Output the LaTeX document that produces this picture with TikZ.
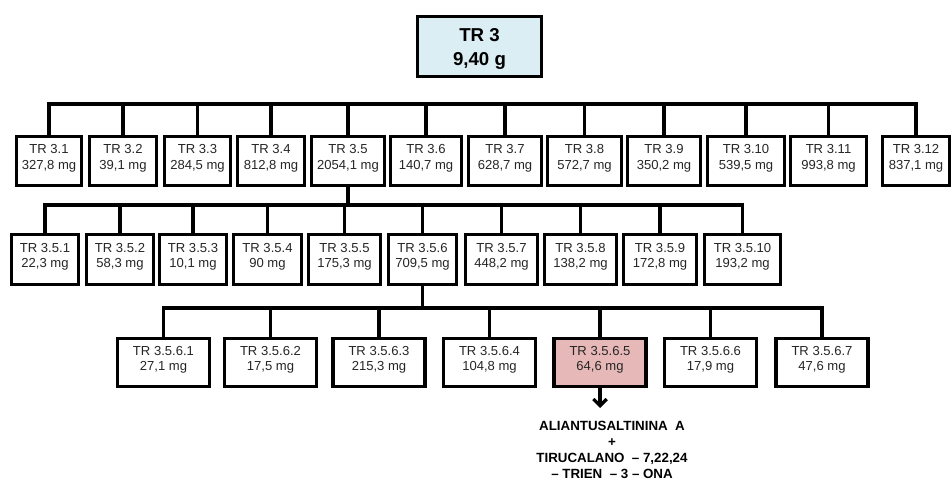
\documentclass[tikz,border=0pt]{standalone}
\usepackage{fontspec}
\setmainfont{Liberation Sans}
\usepackage{xcolor}
\usepackage{tikz}
\usetikzlibrary{arrows.meta}

\definecolor{headblue}{HTML}{DAEEF3}
\definecolor{hitrose}{HTML}{E6B9B8}

\tikzset{
  frac/.style={draw, line width=2.4pt, fill=white, inner sep=0pt, align=center,
    font=\fontsize{9.8}{11.5}\selectfont, text=black!85, minimum width=#1},
  lowpad/.style={execute at end node={\rule[-6pt]{0pt}{6pt}}},
  rowA/.style={frac=#1, lowpad, minimum height=36.75pt},
  rowB/.style={frac=#1, lowpad, minimum height=37.5pt},
  rowC/.style={frac=69pt, lowpad, minimum height=36pt},
  link/.style={line width=2.4pt}
}

\begin{document}
\begin{tikzpicture}[x=0.75pt, y=-0.75pt]
\useasboundingbox (0,0) rectangle (952,484);

\node[frac=93pt, minimum height=45pt, fill=headblue, text=black, font=\bfseries\fontsize{14}{18}\selectfont] (tr3) at (479.5,46.5) {\rule{0pt}{14pt}TR 3\\9,40 g};

\coordinate (bus1) at (0,104);
\coordinate (bus2) at (0,205);
\coordinate (bus3) at (0,308);

\node[rowA=48.75pt] (a1) at (49,161) {TR 3.1\\327,8 mg};
\node[rowA=50.25pt] (a2) at (123,161) {TR 3.2\\39,1 mg};
\node[rowA=49.5pt] (a3) at (197.5,161) {TR 3.3\\284,5 mg};
\node[rowA=50.25pt] (a4) at (271,161) {TR 3.4\\812,8 mg};
\node[rowA=54.75pt] (a5) at (348,161) {TR 3.5\\2054,1 mg};
\node[rowA=53.25pt] (a6) at (426,161) {TR 3.6\\140,7 mg};
\node[rowA=54.75pt] (a7) at (505,161) {TR 3.7\\628,7 mg};
\node[rowA=55.5pt] (a8) at (584.5,161) {TR 3.8\\572,7 mg};
\node[rowA=54.75pt] (a9) at (664,161) {TR 3.9\\350,2 mg};
\node[rowA=57.75pt] (a10) at (746,161) {TR 3.10\\539,5 mg};
\node[rowA=57pt] (a11) at (828.5,161) {TR 3.11\\993,8 mg};
\node[rowA=50.25pt] (a12) at (916,161) {TR 3.12\\837,1 mg};

\node[rowB=50.25pt] (b1) at (45,259.5) {TR 3.5.1\\22,3 mg};
\node[rowB=50.25pt] (b2) at (120,259.5) {TR 3.5.2\\58,3 mg};
\node[rowB=50.25pt] (b3) at (193,259.5) {TR 3.5.3\\10,1 mg};
\node[rowB=51pt] (b4) at (267.5,259.5) {TR 3.5.4\\90 mg};
\node[rowB=54pt] (b5) at (344.5,259.5) {TR 3.5.5\\175,3 mg};
\node[rowB=51pt] (b6) at (422.5,259.5) {TR 3.5.6\\709,5 mg};
\node[rowB=54pt] (b7) at (501.5,259.5) {TR 3.5.7\\448,2 mg};
\node[rowB=54pt] (b8) at (580.5,259.5) {TR 3.5.8\\138,2 mg};
\node[rowB=54.75pt] (b9) at (660,259.5) {TR 3.5.9\\172,8 mg};
\node[rowB=57pt] (b10) at (742.5,259.5) {TR 3.5.10\\193,2 mg};

\node[rowC] (c1) at (163.5,362.5) {TR 3.5.6.1\\27,1 mg};
\node[rowC] (c2) at (270.5,362.5) {TR 3.5.6.2\\17,5 mg};
\node[rowC] (c3) at (379,362.5) {TR 3.5.6.3\\215,3 mg};
\node[rowC] (c4) at (489.5,362.5) {TR 3.5.6.4\\104,8 mg};
\node[rowC, fill=hitrose] (c5) at (600,362.5) {TR 3.5.6.5\\64,6 mg};
\node[rowC] (c6) at (710.5,362.5) {TR 3.5.6.6\\17,9 mg};
\node[rowC] (c7) at (822,362.5) {TR 3.5.6.7\\47,6 mg};

\node[font=\bfseries\fontsize{10}{12}\selectfont, align=center, anchor=north, inner xsep=1pt, inner ysep=9.5pt] (product) at (612,408)
  {ALIANTUSALTININA\ \ A\\+\\TIRUCALANO\ \ – 7,22,24\\– TRIEN\ \ – 3 – ONA};

\draw[link] (a1.north) -- (a1.north |- bus1) -- (a12.north |- bus1) -- (a12.north);
\draw[link] (a2.north) -- (a2.north |- bus1) (a3.north) -- (a3.north |- bus1) (a4.north) -- (a4.north |- bus1)
  (a5.north) -- (a5.north |- bus1) (a6.north) -- (a6.north |- bus1) (a7.north) -- (a7.north |- bus1)
  (a8.north) -- (a8.north |- bus1) (a9.north) -- (a9.north |- bus1) (a10.north) -- (a10.north |- bus1)
  (a11.north) -- (a11.north |- bus1);

\draw[link] (a5.south) -- (a5.south |- bus2);
\draw[link] (b1.north) -- (b1.north |- bus2) -- (b10.north |- bus2) -- (b10.north);
\draw[link] (b2.north) -- (b2.north |- bus2) (b3.north) -- (b3.north |- bus2) (b4.north) -- (b4.north |- bus2)
  (b5.north) -- (b5.north |- bus2) (b6.north) -- (b6.north |- bus2) (b7.north) -- (b7.north |- bus2)
  (b8.north) -- (b8.north |- bus2) (b9.north) -- (b9.north |- bus2);

\draw[link] (b6.south) -- (b6.south |- bus3);
\draw[link] (c1.north) -- (c1.north |- bus3) -- (c7.north |- bus3) -- (c7.north);
\draw[link] (c2.north) -- (c2.north |- bus3) (c3.north) -- (c3.north |- bus3) (c4.north) -- (c4.north |- bus3)
  (c5.north) -- (c5.north |- bus3) (c6.north) -- (c6.north |- bus3);

\draw[link, -{Straight Barb[length=5pt, width=10pt]}] (c5.south) -- (c5.south |- product.north);
\end{tikzpicture}
\end{document}
